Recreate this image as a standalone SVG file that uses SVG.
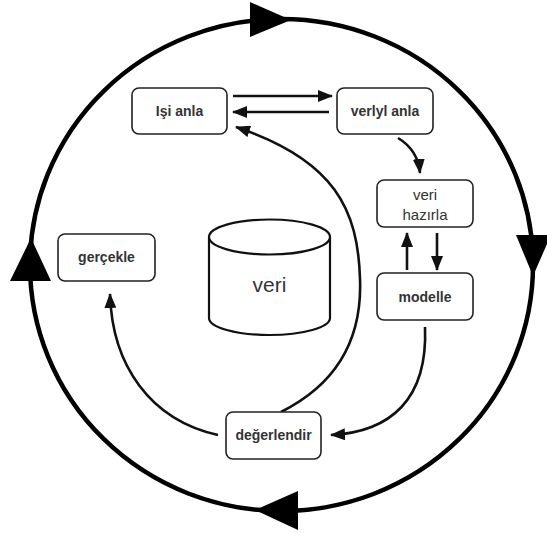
<svg xmlns="http://www.w3.org/2000/svg" width="547" height="533" viewBox="0 0 547 533">
<defs>
<marker id="ah" markerUnits="userSpaceOnUse" markerWidth="15" markerHeight="12" refX="14" refY="6" orient="auto">
<path d="M0,0 L15,6 L0,12 z" fill="#111"/>
</marker>
<style>
.box{fill:#fff;stroke:#222;stroke-width:1.6}
.lbl{font-family:"Liberation Sans",Arial,sans-serif;font-size:14px;font-weight:bold;fill:#333;text-anchor:middle}
.lbn{font-family:"Liberation Sans",Arial,sans-serif;font-size:15px;fill:#333;text-anchor:middle}
.con{fill:none;stroke:#111;stroke-width:2.6;marker-end:url(#ah)}
.big{fill:#000}
</style>
</defs>
<rect width="547" height="533" fill="#fff"/>
<g id="connectors">
<ellipse cx="281.5" cy="265" rx="251.5" ry="246" fill="none" stroke="#000" stroke-width="4.5"/>
<polygon class="big" points="250,2 250,37 291,20"/>
<polygon class="big" points="516,235 551,235 533,276"/>
<polygon class="big" points="298,491 298,530 255,510"/>
<polygon class="big" points="10,281 51,281 31,238"/>
<path class="con" d="M233,96 L332,96"/>
<path class="con" d="M329,112 L233,112"/>
<path class="con" d="M281,412 C345,380 362,330 360,279 C358,210 335,160 236,127"/>
<path class="con" d="M398,138 Q418,150 420,173"/>
<path class="con" d="M437,233 L437,270"/>
<path class="con" d="M407,270 L407,233"/>
<path class="con" d="M425,327 C428,400 390,432 331,435"/>
<path class="con" d="M218,435 C150,420 112,365 110,294"/>
</g>
<g id="isi-anla">
<rect class="box" x="132" y="88" width="95" height="46" rx="7"/>
<text class="lbl" x="179.5" y="116">Işi anla</text>
</g>
<g id="veriyi-anla">
<rect class="box" x="337" y="88" width="96" height="46" rx="7"/>
<text class="lbl" x="385" y="116">verlyl anla</text>
</g>
<g id="veri-hazirla">
<rect class="box" x="377" y="180" width="96" height="47" rx="7"/>
<text class="lbn" x="425" y="200">veri</text>
<text class="lbn" x="425" y="220">hazırla</text>
</g>
<g id="modelle">
<rect class="box" x="377" y="273" width="96" height="47" rx="7"/>
<text class="lbl" x="425" y="302">modelle</text>
</g>
<g id="gercekle">
<rect class="box" x="58" y="234" width="97" height="47" rx="7"/>
<text class="lbl" x="106.5" y="262">gerçekle</text>
</g>
<g id="degerlendir">
<rect class="box" x="226" y="412" width="95" height="47" rx="7"/>
<text class="lbl" x="273.5" y="440">değerlendir</text>
</g>
<g id="veri">
<path d="M209,237 L209,318 A60.5,17 0 0 0 330,318 L330,237" fill="#fff" stroke="#111" stroke-width="2.2"/>
<ellipse cx="269.5" cy="237" rx="60.5" ry="17.5" fill="#fff" stroke="#111" stroke-width="2.2"/>
<text x="269.5" y="292" font-family="Liberation Sans,Arial,sans-serif" font-size="21" fill="#333" text-anchor="middle">veri</text>
</g>
</svg>
